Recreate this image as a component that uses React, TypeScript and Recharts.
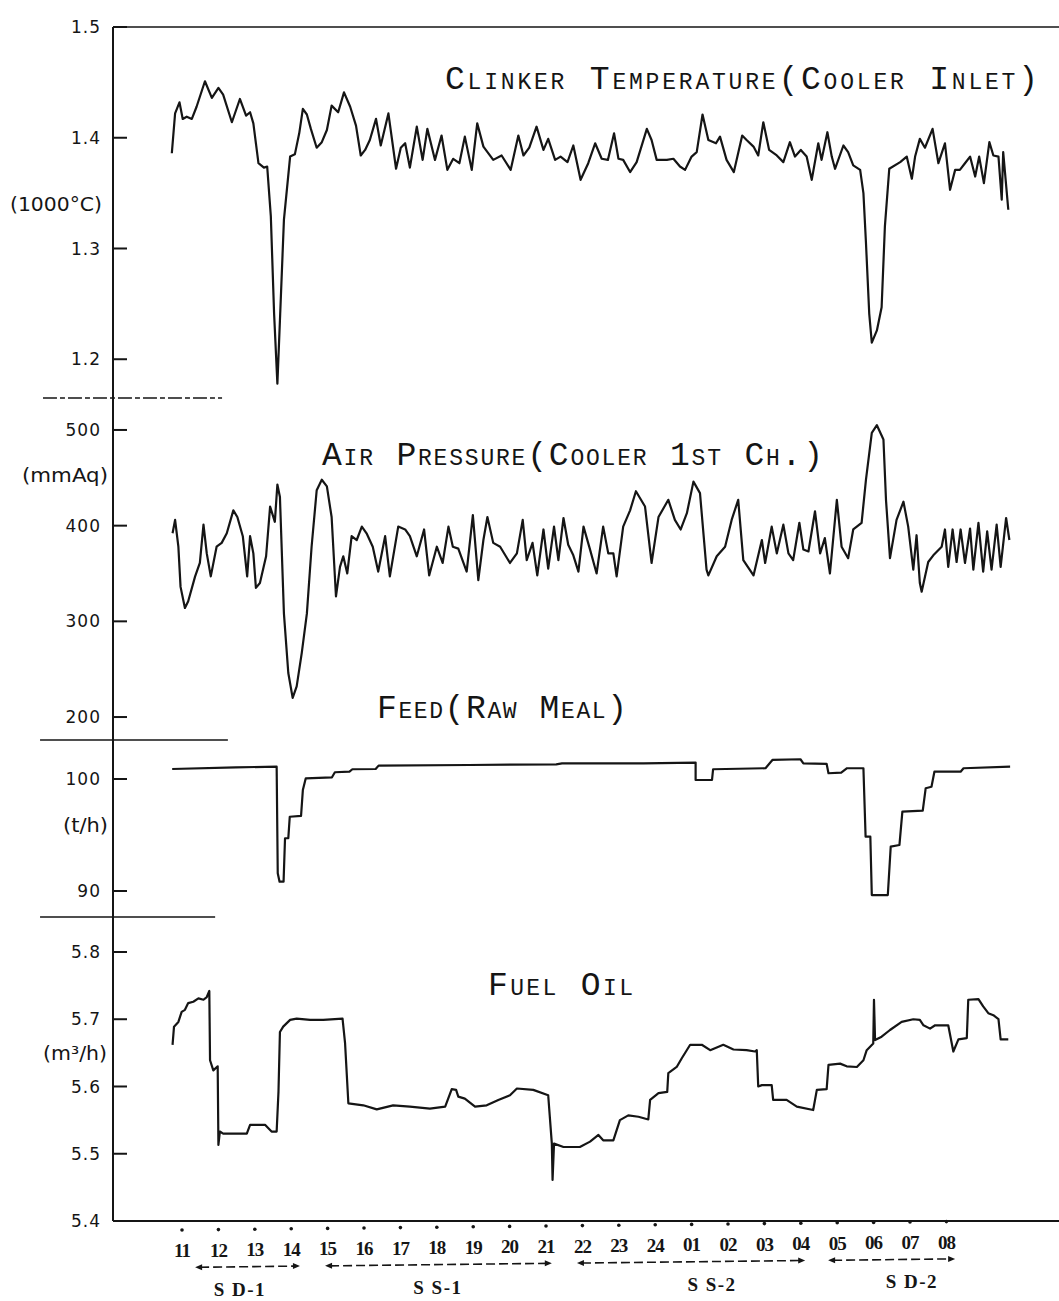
import React from 'react';
import { LineChart, Line, XAxis, YAxis, ReferenceLine } from 'recharts';

// time axis: hours after 11:00 (0 -> "11", 21 -> "08")
const hourTicks = [0, 1, 2, 3, 4, 5, 6, 7, 8, 9, 10, 11, 12, 13, 14, 15, 16, 17, 18, 19, 20, 21];
const hourLabels = ['11', '12', '13', '14', '15', '16', '17', '18', '19', '20', '21', '22', '23', '24', '01', '02', '03', '04', '05', '06', '07', '08'];

const tempTicks = [1.2, 1.3, 1.4, 1.5];
const airTicks = [200, 300, 400, 500];
const feedTicks = [90, 100];
const fuelTicks = [5.4, 5.5, 5.6, 5.7, 5.8];

// [hour, value]
const clinkerTemp: [number, number][] = [
  [-0.28, 1.386], [-0.19, 1.422], [-0.07, 1.432], [0.02, 1.417], [0.13, 1.419], [0.27, 1.417], [0.4, 1.428], [0.63, 1.451],
  [0.82, 1.436], [1.0, 1.445], [1.13, 1.439], [1.37, 1.414], [1.59, 1.435], [1.76, 1.42], [1.87, 1.423], [1.96, 1.413],
  [2.1, 1.377], [2.25, 1.373], [2.34, 1.374], [2.44, 1.329], [2.53, 1.241], [2.62, 1.178], [2.69, 1.235], [2.8, 1.326],
  [2.97, 1.383], [3.1, 1.385], [3.22, 1.404], [3.32, 1.426], [3.43, 1.421], [3.54, 1.408], [3.7, 1.391], [3.84, 1.396],
  [3.98, 1.407], [4.11, 1.429], [4.29, 1.423], [4.45, 1.441], [4.62, 1.428], [4.78, 1.411], [4.91, 1.384], [5.03, 1.389],
  [5.16, 1.398], [5.33, 1.417], [5.46, 1.393], [5.67, 1.422], [5.88, 1.372], [6.01, 1.391], [6.13, 1.395], [6.26, 1.373],
  [6.45, 1.41], [6.61, 1.38], [6.74, 1.408], [6.95, 1.38], [7.13, 1.402], [7.29, 1.371], [7.45, 1.381], [7.62, 1.377],
  [7.77, 1.401], [7.96, 1.371], [8.11, 1.413], [8.28, 1.392], [8.55, 1.38], [8.78, 1.384], [9.03, 1.371], [9.24, 1.402],
  [9.38, 1.384], [9.54, 1.391], [9.74, 1.41], [9.93, 1.389], [10.06, 1.399], [10.25, 1.38], [10.4, 1.383], [10.59, 1.378],
  [10.75, 1.393], [10.95, 1.362], [11.16, 1.377], [11.35, 1.395], [11.53, 1.381], [11.7, 1.38], [11.87, 1.404], [11.99, 1.381],
  [12.12, 1.38], [12.31, 1.369], [12.49, 1.378], [12.77, 1.408], [12.9, 1.398], [13.04, 1.38], [13.32, 1.38], [13.5, 1.381],
  [13.68, 1.374], [13.82, 1.371], [14.0, 1.383], [14.14, 1.387], [14.3, 1.421], [14.46, 1.398], [14.67, 1.395], [14.78, 1.401],
  [14.96, 1.38], [15.16, 1.369], [15.39, 1.402], [15.51, 1.398], [15.7, 1.392], [15.83, 1.384], [15.97, 1.414], [16.13, 1.389],
  [16.34, 1.384], [16.52, 1.378], [16.7, 1.396], [16.84, 1.383], [17.0, 1.389], [17.16, 1.383], [17.3, 1.362], [17.48, 1.395],
  [17.57, 1.38], [17.73, 1.405], [17.85, 1.383], [17.94, 1.372], [18.17, 1.393], [18.3, 1.387], [18.44, 1.375], [18.63, 1.371],
  [18.72, 1.35], [18.79, 1.305], [18.88, 1.241], [18.95, 1.215], [19.09, 1.226], [19.22, 1.247], [19.31, 1.32], [19.43, 1.372],
  [19.73, 1.378], [19.91, 1.383], [20.05, 1.363], [20.14, 1.383], [20.27, 1.399], [20.41, 1.391], [20.62, 1.408], [20.78, 1.377],
  [20.96, 1.395], [21.1, 1.353], [21.24, 1.371], [21.37, 1.371], [21.51, 1.377], [21.65, 1.383], [21.79, 1.365], [21.9, 1.383],
  [22.03, 1.359], [22.18, 1.396], [22.29, 1.384], [22.43, 1.383], [22.52, 1.344], [22.56, 1.387], [22.7, 1.335],
];

const airPressure: [number, number][] = [
  [-0.26, 392], [-0.19, 406], [-0.1, 378], [-0.04, 336], [0.08, 314], [0.17, 321], [0.36, 347], [0.49, 361], [0.59, 401],
  [0.68, 371], [0.79, 347], [0.95, 378], [1.09, 382], [1.23, 392], [1.41, 416], [1.52, 409], [1.67, 389], [1.79, 347],
  [1.87, 389], [1.96, 371], [2.03, 335], [2.14, 340], [2.31, 368], [2.42, 420], [2.55, 404], [2.62, 443], [2.69, 430],
  [2.8, 308], [2.92, 246], [3.04, 220], [3.15, 232], [3.29, 267], [3.43, 308], [3.56, 378], [3.7, 437], [3.84, 448],
  [3.98, 441], [4.11, 409], [4.23, 326], [4.34, 357], [4.43, 368], [4.54, 350], [4.66, 389], [4.8, 385], [4.94, 399],
  [5.07, 392], [5.24, 378], [5.39, 352], [5.58, 389], [5.71, 347], [5.94, 399], [6.13, 396], [6.26, 389], [6.45, 368],
  [6.65, 396], [6.79, 348], [7.0, 378], [7.16, 361], [7.32, 399], [7.44, 378], [7.59, 376], [7.82, 352], [7.99, 411],
  [8.14, 343], [8.28, 385], [8.39, 409], [8.55, 382], [8.74, 378], [9.01, 361], [9.2, 371], [9.36, 406], [9.47, 364],
  [9.63, 382], [9.76, 348], [9.93, 396], [10.06, 355], [10.22, 399], [10.34, 364], [10.48, 408], [10.61, 380], [10.75, 369],
  [10.89, 352], [11.03, 399], [11.21, 375], [11.39, 350], [11.57, 399], [11.71, 371], [11.85, 371], [11.94, 347], [12.12, 399],
  [12.31, 416], [12.47, 436], [12.72, 420], [12.9, 361], [13.09, 409], [13.36, 427], [13.54, 406], [13.7, 396], [13.87, 413],
  [14.05, 446], [14.23, 434], [14.41, 354], [14.46, 348], [14.69, 368], [14.92, 378], [15.1, 406], [15.28, 427], [15.42, 364],
  [15.7, 348], [15.93, 385], [16.02, 361], [16.2, 399], [16.34, 371], [16.52, 401], [16.66, 371], [16.79, 364], [16.96, 403],
  [17.07, 375], [17.21, 373], [17.39, 415], [17.53, 371], [17.66, 387], [17.8, 350], [17.99, 427], [18.12, 378], [18.3, 366],
  [18.44, 396], [18.67, 403], [18.79, 448], [18.95, 497], [19.09, 505], [19.27, 490], [19.34, 427], [19.45, 366], [19.63, 406],
  [19.82, 425], [19.95, 399], [20.09, 354], [20.18, 390], [20.27, 340], [20.32, 331], [20.5, 362], [20.64, 369], [20.87, 378],
  [20.96, 396], [21.05, 357], [21.17, 396], [21.28, 362], [21.39, 396], [21.51, 361], [21.65, 397], [21.74, 354], [21.88, 403],
  [22.01, 352], [22.12, 394], [22.24, 354], [22.38, 401], [22.49, 357], [22.64, 408], [22.73, 385],
];

const feedRate: [number, number][] = [
  [-0.27, 100.89], [1.48, 101.04], [2.6, 101.1], [2.63, 91.58], [2.68, 90.83], [2.79, 90.83], [2.83, 94.71], [2.92, 94.71],
  [2.96, 96.63], [3.27, 96.7], [3.32, 99.02], [3.4, 100.06], [4.12, 100.15], [4.2, 100.6], [4.6, 100.65], [4.68, 100.87],
  [5.32, 100.89], [5.4, 101.19], [7.88, 101.25], [10.28, 101.31], [10.44, 101.4], [12.68, 101.4], [14.11, 101.46], [14.11, 99.91],
  [14.56, 99.91], [14.59, 100.87], [16.03, 100.96], [16.22, 101.7], [16.99, 101.76], [17.07, 101.4], [17.71, 101.34], [17.76, 100.51],
  [18.11, 100.56], [18.27, 100.96], [18.72, 100.96], [18.78, 94.85], [18.91, 94.85], [18.95, 89.64], [19.39, 89.64], [19.47, 93.96],
  [19.71, 94.11], [19.79, 97.08], [20.35, 97.17], [20.43, 99.17], [20.59, 99.31], [20.67, 100.65], [21.39, 100.65], [21.47, 100.96],
  [22.75, 101.1],
];

const fuelOil: [number, number][] = [
  [-0.26, 5.662], [-0.22, 5.689], [-0.1, 5.696], [-0.01, 5.711], [0.08, 5.714], [0.17, 5.724], [0.31, 5.726], [0.45, 5.731],
  [0.59, 5.729], [0.68, 5.733], [0.75, 5.742], [0.77, 5.639], [0.86, 5.624], [0.98, 5.63], [1.0, 5.513], [1.04, 5.533],
  [1.13, 5.53], [1.78, 5.53], [1.87, 5.543], [2.28, 5.543], [2.46, 5.533], [2.6, 5.533], [2.65, 5.592], [2.69, 5.681],
  [2.78, 5.689], [2.97, 5.699], [3.15, 5.701], [3.52, 5.699], [3.88, 5.699], [4.41, 5.701], [4.48, 5.664], [4.57, 5.575],
  [4.98, 5.572], [5.35, 5.566], [5.8, 5.572], [6.26, 5.57], [6.81, 5.567], [7.23, 5.57], [7.41, 5.596], [7.53, 5.595],
  [7.59, 5.585], [7.77, 5.582], [8.05, 5.57], [8.37, 5.572], [8.69, 5.58], [9.01, 5.587], [9.2, 5.597], [9.65, 5.595],
  [10.06, 5.587], [10.16, 5.515], [10.18, 5.461], [10.22, 5.515], [10.48, 5.51], [10.93, 5.51], [11.21, 5.518], [11.44, 5.528],
  [11.57, 5.52], [11.85, 5.52], [12.03, 5.55], [12.26, 5.557], [12.54, 5.555], [12.81, 5.551], [12.86, 5.58], [13.09, 5.59],
  [13.33, 5.592], [13.36, 5.62], [13.59, 5.629], [13.73, 5.642], [13.96, 5.662], [14.28, 5.662], [14.51, 5.654], [14.87, 5.662],
  [15.15, 5.655], [15.51, 5.654], [15.74, 5.652], [15.79, 5.654], [15.83, 5.6], [15.93, 5.602], [16.2, 5.602], [16.24, 5.58],
  [16.61, 5.58], [16.89, 5.57], [17.34, 5.565], [17.44, 5.595], [17.71, 5.596], [17.76, 5.632], [18.08, 5.634], [18.26, 5.63],
  [18.54, 5.629], [18.72, 5.639], [18.81, 5.654], [18.99, 5.664], [19.01, 5.729], [19.04, 5.669], [19.22, 5.674], [19.45, 5.684],
  [19.77, 5.696], [20.09, 5.7], [20.27, 5.699], [20.37, 5.691], [20.55, 5.686], [20.69, 5.691], [21.05, 5.691], [21.19, 5.652],
  [21.33, 5.67], [21.56, 5.672], [21.6, 5.729], [21.88, 5.73], [22.01, 5.719], [22.15, 5.709], [22.29, 5.706], [22.43, 5.7],
  [22.49, 5.67], [22.7, 5.67],
];

// operating periods under the time axis: [name, from hour, to hour, label hour]
const periods: [string, number, number, number][] = [
  ['S D-1', 0.36, 3.24, 1.59],
  ['S S-1', 3.93, 10.16, 7.03],
  ['S S-2', 10.85, 17.12, 14.56],
  ['S D-2', 17.75, 21.24, 20.05],
];

const INK = '#151515';
const WIDTH = 1059;
const HEIGHT = 1301;
const X_DOMAIN: [number, number] = [-1.896, 24.093];
const SCAN_TILT = 0.011; // the scanned page rises slightly to the right

const toRows = (pts: [number, number][]) => pts.map(([t, v]) => ({ t, v }));

type Panel = {
  id: string;
  data: [number, number][];
  domain: [number, number];
  ticks: number[];
  fmt: (v: number) => string;
  top: number;
  height: number;
  margin: { top: number; right: number; bottom: number; left: number };
  sep?: [number, number, string];
};

const panels: Panel[] = [
  { id: 'temp', data: clinkerTemp, domain: [1.165, 1.5], ticks: tempTicks, fmt: (v) => v.toFixed(1), top: 0, height: 402, margin: { top: 27, right: 0, bottom: 4, left: 0 }, sep: [-3.82, 1.1, '14 3 5 3'] },
  { id: 'air', data: airPressure, domain: [176, 533.4], ticks: airTicks, fmt: (v) => String(v), top: 394, height: 350, margin: { top: 4, right: 0, bottom: 4, left: 0 }, sep: [-3.9, 1.26, ''] },
  { id: 'feed', data: feedRate, domain: [87.68, 103.48], ticks: feedTicks, fmt: (v) => String(v), top: 736, height: 185, margin: { top: 4, right: 0, bottom: 4, left: 0 }, sep: [-3.9, 0.91, ''] },
  { id: 'fuel', data: fuelOil, domain: [5.4, 5.852], ticks: fuelTicks, fmt: (v) => v.toFixed(1), top: 913, height: 388, margin: { top: 4, right: 0, bottom: 0, left: 0 } },
];

const titles = [
  { text: 'Clinker Temperature(Cooler Inlet)', x: 445, y: 89, w: 593 },
  { text: 'Air Pressure(Cooler 1st Ch.)', x: 322, y: 465, w: 501 },
  { text: 'Feed(Raw Meal)', x: 377, y: 718, w: 250 },
  { text: 'Fuel Oil', x: 488, y: 995, w: 145 },
];

const units = [
  { text: '(1000°C)', x: 10, y: 211, w: 92 },
  { text: '(mmAq)', x: 22, y: 482, w: 86 },
  { text: '(t/h)', x: 63, y: 832, w: 45 },
  { text: '(m³/h)', x: 43, y: 1060, w: 64 },
];

const makeYTick = (fmt: (v: number) => string) => (props: any) => {
  const { x, y, payload } = props;
  return (
    <g>
      <line x1={x} y1={y} x2={x + 14} y2={y} stroke={INK} strokeWidth={2} />
      <text x={x - 12} y={y} dy="0.36em" textAnchor="end" fontFamily="DejaVu Sans" fontSize={17} letterSpacing={1} fill={INK}>
        {fmt(payload.value)}
      </text>
    </g>
  );
};

const HourTick = (props: any) => {
  const { x, y, payload } = props;
  const lift = (x - 182) * SCAN_TILT;
  return (
    <g transform={`translate(0, ${-lift})`}>
      <circle cx={x} cy={y + 9} r={1.8} fill={INK} />
      <text x={x} y={y + 36} textAnchor="middle" fontFamily="Liberation Serif" fontWeight="bold" fontSize={19} letterSpacing={-1} fill={INK}>
        {hourLabels[payload.value]}
      </text>
    </g>
  );
};

const periodShape = (name: string, from: number, to: number, at: number) => (props: any) => {
  const { x1, x2, y1 } = props;
  const ya = y1 - (x1 - 182) * SCAN_TILT;
  const yb = y1 - (x2 - 182) * SCAN_TILT;
  const lx = x1 + ((at - from) / (to - from)) * (x2 - x1);
  const ly = y1 - (lx - 182) * SCAN_TILT + 29;
  return (
    <g>
      <line x1={x1 + 5} y1={ya} x2={x2 - 5} y2={yb} stroke={INK} strokeWidth={1.6} strokeDasharray="9 4" />
      <path d={`M${x1},${ya} l7,-3 l0,6 z`} fill={INK} />
      <path d={`M${x2},${yb} l-7,-3 l0,6 z`} fill={INK} />
      <text x={lx} y={ly} textAnchor="middle" fontFamily="Liberation Serif" fontWeight="bold" fontSize={19} letterSpacing={1.5} fill={INK}>
        {name}
      </text>
    </g>
  );
};

const ARROW_LEVEL = 5.331;

export default function App() {
  return (
    <div style={{ position: 'absolute', left: 0, top: 0, width: WIDTH, height: HEIGHT, background: '#fff', overflow: 'hidden' }}>
      {panels.map((p, i) => {
        const last = i === panels.length - 1;
        return (
          <div key={p.id} style={{ position: 'absolute', left: 0, top: p.top }}>
            <LineChart width={WIDTH} height={p.height} data={toRows(p.data)} margin={p.margin}>
              <XAxis
                type="number"
                dataKey="t"
                domain={X_DOMAIN}
                allowDataOverflow
                ticks={hourTicks}
                interval={0}
                hide={!last}
                height={80}
                axisLine={{ stroke: INK, strokeWidth: 2 }}
                tickLine={false}
                tickSize={0}
                tickMargin={0}
                tick={HourTick}
              />
              <YAxis
                type="number"
                domain={p.domain}
                allowDataOverflow
                ticks={p.ticks}
                interval={0}
                width={113}
                axisLine={{ stroke: INK, strokeWidth: 2 }}
                tickLine={false}
                tickSize={0}
                tickMargin={0}
                tick={makeYTick(p.fmt)}
              />
              {i === 0 && <ReferenceLine y={1.5} stroke={INK} strokeWidth={1.6} />}
              {p.sep && (
                <ReferenceLine
                  segment={[{ x: p.sep[0], y: p.domain[0] }, { x: p.sep[1], y: p.domain[0] }]}
                  ifOverflow="visible"
                  stroke={INK}
                  strokeWidth={1.4}
                  strokeDasharray={p.sep[2] || undefined}
                />
              )}
              {last &&
                periods.map(([name, from, to, at]) => (
                  <ReferenceLine
                    key={name}
                    segment={[{ x: from, y: ARROW_LEVEL }, { x: to, y: ARROW_LEVEL }]}
                    ifOverflow="visible"
                    shape={periodShape(name, from, to, at)}
                  />
                ))}
              <Line
                dataKey="v"
                type="linear"
                stroke={INK}
                strokeWidth={2.2}
                strokeLinejoin="round"
                dot={false}
                activeDot={false}
                isAnimationActive={false}
              />
            </LineChart>
          </div>
        );
      })}
      <svg width={WIDTH} height={HEIGHT} style={{ position: 'absolute', left: 0, top: 0, pointerEvents: 'none' }}>
        {titles.map((t) => (
          <text
            key={t.text}
            x={t.x}
            y={t.y}
            textLength={t.w}
            lengthAdjust="spacing"
            fontFamily="Liberation Mono"
            fontSize={33}
            fill={INK}
            style={{ fontVariant: 'small-caps' }}
          >
            {t.text}
          </text>
        ))}
        {units.map((u) => (
          <text key={u.text} x={u.x} y={u.y} textLength={u.w} lengthAdjust="spacingAndGlyphs" fontFamily="DejaVu Sans" fontSize={19} fill={INK}>
            {u.text}
          </text>
        ))}
      </svg>
    </div>
  );
}
